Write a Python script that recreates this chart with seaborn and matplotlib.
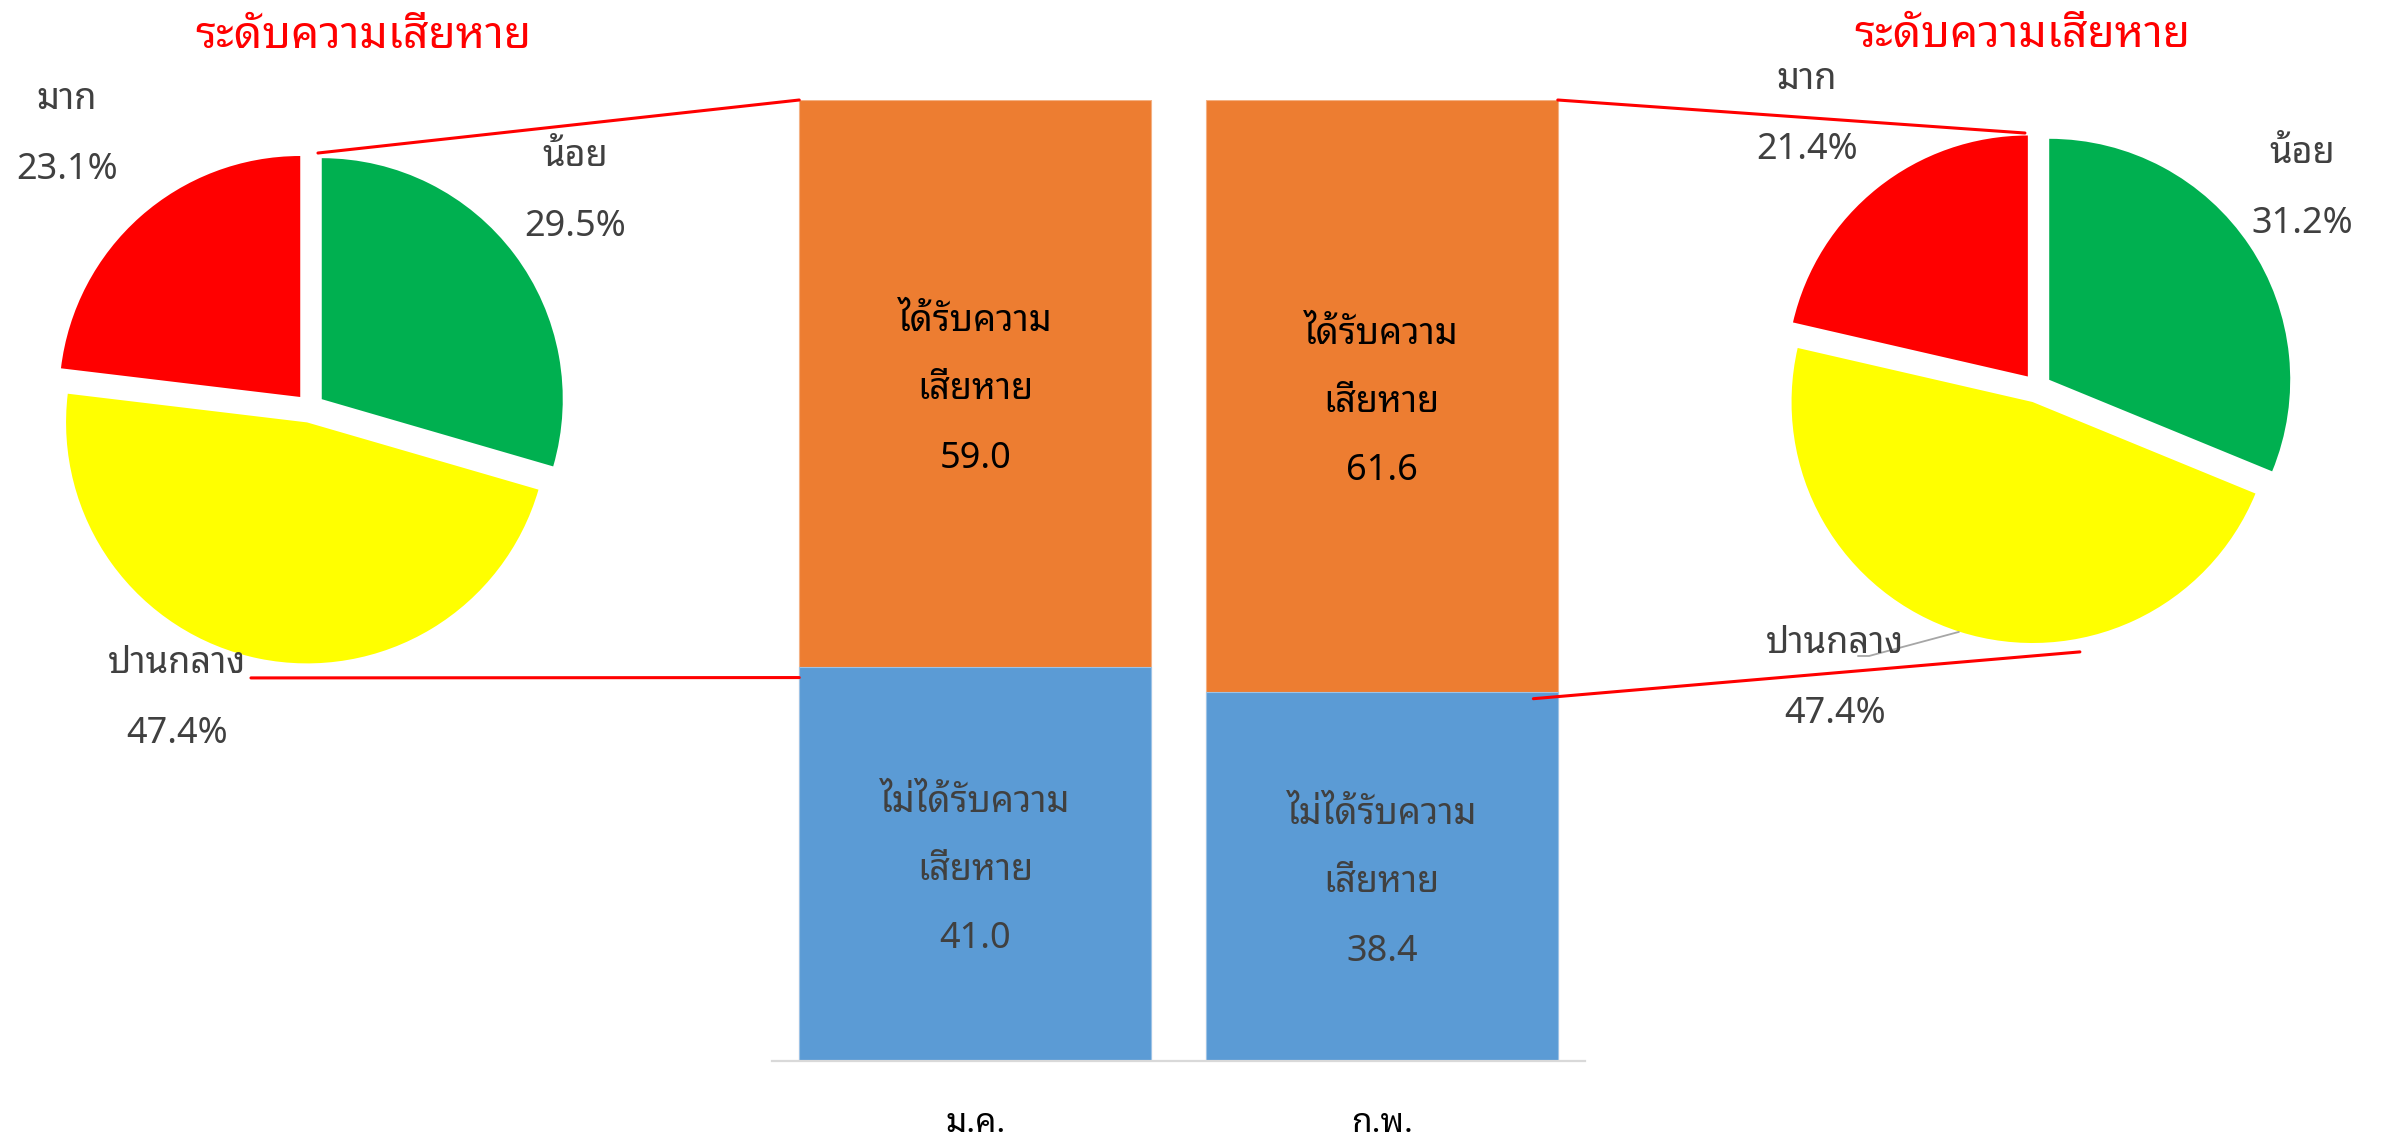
import matplotlib
matplotlib.use("Agg")
import matplotlib.pyplot as plt
from matplotlib import font_manager
from matplotlib.ft2font import FT2Font
from matplotlib.patches import ConnectionPatch
from matplotlib.transforms import ScaledTranslation
import seaborn as sns

# ---------------- data ----------------
months = ["ม.ค.", "ก.พ."]
damaged = [59.0, 61.6]            # ได้รับความเสียหาย
not_damaged = [41.0, 38.4]        # ไม่ได้รับความเสียหาย
damaged_label = "ได้รับความ\nเสียหาย"
not_damaged_label = "ไม่ได้รับความ\nเสียหาย"

level_names = ["น้อย", "ปานกลาง", "มาก"]
level_jan = [29.5, 47.4, 23.1]
level_feb = [31.2, 47.4, 21.4]
pie_title = "ระดับความเสียหาย"

# ---------------- fonts ----------------
sns.set_theme(style="white")
fams = set()
for f in font_manager.fontManager.ttflist:
    try:
        if 0x0E01 in FT2Font(f.fname).get_charmap():
            fams.add(f.name)
    except Exception:
        pass
pref = ["Noto Sans Thai Looped", "Sarabun", "IBM Plex Sans Thai Looped",
        "Noto Sans Thai", "Anuphan", "Bai Jamjuree"]
thai = next((p for p in pref if p in fams), sorted(fams)[0] if fams else "DejaVu Sans")
plt.rcParams["font.family"] = [thai, "DejaVu Sans"]

W, H = 2382, 1144
fig = plt.figure(figsize=(W / 100, H / 100), dpi=100)
fig.patch.set_facecolor("white")

def fx(x):
    return x / W

def fy(y):
    return 1 - y / H

GRAY = "#404040"
ORANGE = "#ed7d31"
BLUE = "#5b9bd5"
PIE_COLORS = ["#00b050", "#ffff00", "#ff0000"]
R = 241.0   # pie radius in px
HALF = 300.0
FS = 26

def pie_axes(cx, cy, values):
    ax = fig.add_axes([fx(cx - HALF), fy(cy + HALF), 2 * HALF / W, 2 * HALF / H])
    ax.pie(values, colors=PIE_COLORS, startangle=90, counterclock=False,
           explode=[0.061] * len(values), radius=1,
           wedgeprops=dict(linewidth=0))
    L = HALF / R
    ax.set_xlim(-L, L)
    ax.set_ylim(-L, L)
    ax.set_axis_off()
    return ax

axL = pie_axes(310, 408, level_jan)
axR = pie_axes(2037, 388, level_feb)

# ---------------- bars ----------------
axB = fig.add_axes([fx(772), fy(1061), 813 / W, 961 / H])
totals = [a + b for a, b in zip(damaged, not_damaged)]
sns.barplot(x=months, y=totals, color=ORANGE, saturation=1, width=0.866,
            errorbar=None, ax=axB, edgecolor="#f4b183", linewidth=0.8)
sns.barplot(x=months, y=not_damaged, color=BLUE, saturation=1, width=0.866,
            errorbar=None, ax=axB, edgecolor="#9dc3e6", linewidth=0.8)
axB.set_xlim(-0.5, 1.5)
axB.set_ylim(0, 100)
axB.set_xlabel("")
axB.set_ylabel("")
axB.set_yticks([])
for s in ["left", "right", "top"]:
    axB.spines[s].set_visible(False)
axB.spines["bottom"].set_color("#d9d9d9")
axB.spines["bottom"].set_linewidth(1.6)
axB.tick_params(axis="x", length=0, pad=33)
for t in axB.get_xticklabels():
    t.set_fontsize(24)
    t.set_fontweight("bold")
    t.set_color("black")

LS = 2.2
shift = axB.transData + ScaledTranslation(0, -7 / 100, fig.dpi_scale_trans)
for i in range(len(months)):
    axB.text(i, not_damaged[i] + damaged[i] / 2,
             "%s\n%.1f" % (damaged_label, damaged[i]),
             ha="center", va="center", fontsize=FS, color="black",
             linespacing=LS, fontweight="medium", transform=shift)
    axB.text(i, not_damaged[i] / 2,
             "%s\n%.1f" % (not_damaged_label, not_damaged[i]),
             ha="center", va="center", fontsize=FS, color=GRAY,
             linespacing=LS, transform=shift)

# ---------------- pie labels ----------------
def lab(x, y, name, val, dy=70):
    fig.text(fx(x), fy(y), name, ha="center", va="center", fontsize=FS, color=GRAY)
    fig.text(fx(x), fy(y + dy), "%.1f%%" % val, ha="center", va="center",
             fontsize=FS, color=GRAY)

lab(575, 157, level_names[0], level_jan[0])
lab(177, 664, level_names[1], level_jan[1])
lab(67, 100, level_names[2], level_jan[2])
lab(2302, 154, level_names[0], level_feb[0])
lab(1835, 644, level_names[1], level_feb[1])
lab(1807, 80, level_names[2], level_feb[2])

fig.text(fx(363), fy(37), pie_title, ha="center", va="center", fontsize=32,
         color="#ff0000", fontweight="bold")
fig.text(fx(2022), fy(36), pie_title, ha="center", va="center", fontsize=32,
         color="#ff0000", fontweight="bold")

# gray leader line on right pie
axR.plot([-0.743, -0.697, -0.324], [-1.112, -1.112, -1.012], color="#a6a6a6",
         lw=1.3, clip_on=False)

# ---------------- red connector lines ----------------
bw = 0.866 / 2
def connect(axp, pa, pb):
    cp = ConnectionPatch(xyA=pa, coordsA=axp.transData, xyB=pb, coordsB=axB.transData,
                         color="#ff0000", lw=2.2)
    fig.add_artist(cp)

connect(axL, (0.033, 1.058), (0 - bw, totals[0]))
connect(axL, (-0.245, -1.120), (0 - bw, not_damaged[0] - 1.1))
connect(axR, (-0.05, 1.058), (1 + bw, totals[1]))
connect(axR, (0.178, -1.095), (1 + bw - 0.06, not_damaged[1] - 0.7))

fig.savefig("out.png", dpi=100)
